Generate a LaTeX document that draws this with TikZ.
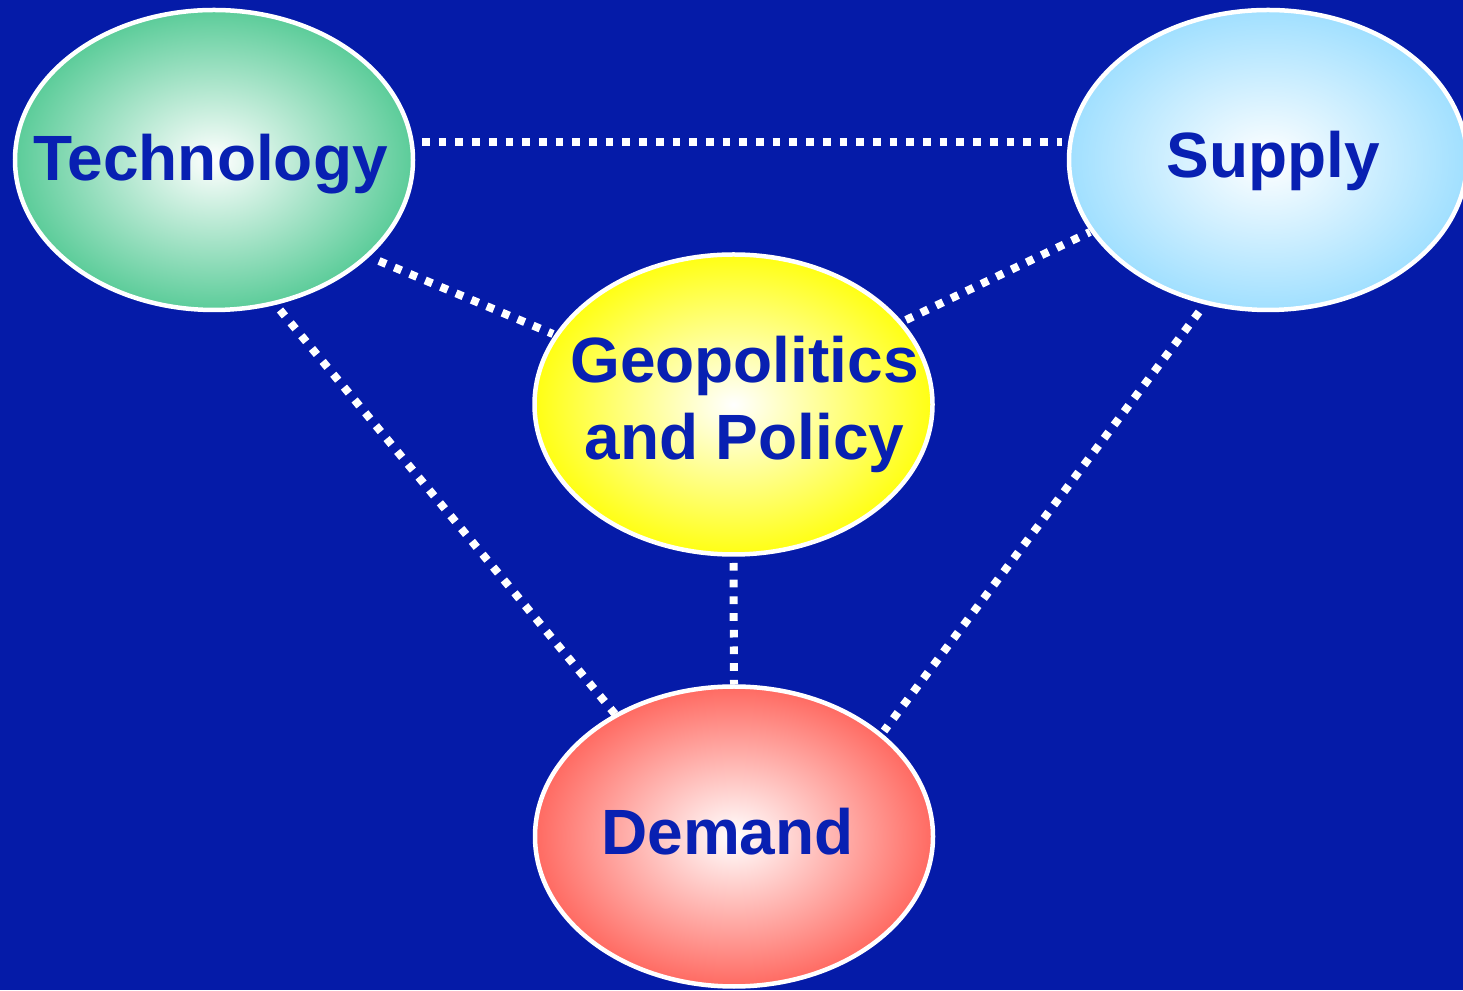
\documentclass[tikz,border=0pt]{standalone}
\usepackage{fontspec}
\setmainfont{Liberation Sans}
\usetikzlibrary{shapes.geometric,calc}
\definecolor{bgblue}{RGB}{5,27,168}
\definecolor{txtblue}{RGB}{8,32,178}
\definecolor{cgreen}{RGB}{78,200,145}
\definecolor{cblue}{RGB}{153,221,255}
\definecolor{cyellow}{RGB}{255,255,0}
\definecolor{cred}{RGB}{255,94,85}
\pgfdeclareradialshading{shgreen}{\pgfpoint{0bp}{0bp}}{color(0bp)=(white); color(27bp)=(cgreen); color(50bp)=(cgreen)}
\pgfdeclareradialshading{shblue}{\pgfpoint{0bp}{0bp}}{color(0bp)=(white); color(27bp)=(cblue); color(50bp)=(cblue)}
\pgfdeclareradialshading{shyellow}{\pgfpoint{0bp}{0bp}}{color(0bp)=(white); color(27bp)=(cyellow); color(50bp)=(cyellow)}
\pgfdeclareradialshading{shred}{\pgfpoint{0bp}{0bp}}{color(0bp)=(white); color(27bp)=(cred); color(50bp)=(cred)}
\pgfdeclarelayer{bg}
\pgfsetlayers{bg,main}
\tikzset{
  blob/.style={ellipse, draw=white, line width=4.5pt, minimum width=398pt, minimum height=300pt, inner sep=0pt},
  lbl/.style={text=txtblue, font=\fontsize{64}{77}\selectfont\bfseries, anchor=base, inner sep=0pt},
  link/.style={draw=white, line width=8pt, dash pattern=on 7.7pt off 9pt}
}
\begin{document}
\begin{tikzpicture}[x=1pt,y=1pt]
\useasboundingbox (0,0) rectangle (1463,990);
\node[blob, shade, shading=shgreen] (tech) at (214,830) {};
\node[blob, shade, shading=shblue] (supply) at (1268,830) {};
\node[blob, shade, shading=shyellow] (geo) at (733.5,585.5) {};
\node[blob, shade, shading=shred] (demand) at (734,153.5) {};
\node[lbl] (techt) at ($(tech.center)+(-3.5,-21)$) {Technology};
\node[lbl] (supplyt) at ($(supply.center)+(5.5,-18)$) {Supply};
\node[lbl] (geot1) at ($(geo.center)+(11,21.5)$) {Geopolitics};
\node[lbl] (geot2) at ($(geo.center)+(11,-55.5)$) {and Policy};
\node[lbl] (demandt) at ($(demand.center)+(-6.5,-18.5)$) {Demand};
\begin{pgfonlayer}{bg}
\fill[bgblue] (0,0) rectangle (1463,990);
\draw[link] ($(tech.center)+(208,18.3)$) -- ($(supply.center)+(-206,18.3)$);
\draw[link] ($(tech.center)+(165,-101)$) -- ($(geo.center)+(-180.5,70.5)$);
\draw[link] ($(geo.center)+(172.5,84.5)$) -- ($(supply.center)+(-178,-72)$);
\draw[link] ($(tech.center)+(66,-150)$) -- ($(demand.center)+(-119,122.5)$);
\draw[link] ($(geo.center)+(0,-158.5)$) -- ($(demand.center)+(0,152)$);
\draw[link] ($(supply.center)+(-69,-152)$) -- ($(demand.center)+(150,105.5)$);
\end{pgfonlayer}
\end{tikzpicture}
\end{document}
